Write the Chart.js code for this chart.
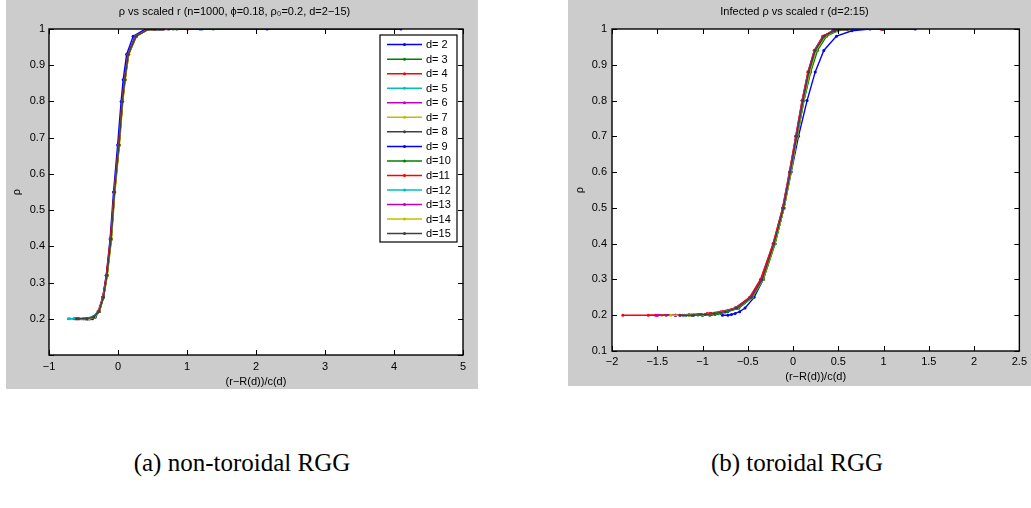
<!DOCTYPE html>
<html>
<head>
<meta charset="utf-8">
<title>rho vs scaled r</title>
<script src="https://cdn.jsdelivr.net/npm/chart.js@4.4.0/dist/chart.umd.min.js"></script>
<style>
  body { margin: 0; width: 1031px; height: 508px; background: #fff; position: relative; overflow: hidden; }
  .panel { position: absolute; top: 0; background: #cccccc; }
  #panelA { left: 6px; width: 472px; height: 389px; }
  #panelB { left: 568px; width: 463px; height: 386px; }
  .caption { position: absolute; top: 449px; width: 400px; text-align: center;
             font-family: 'Liberation Serif', 'DejaVu Serif', serif; font-size: 25px; color: #000; }
</style>
</head>
<body>
<div class="panel" id="panelA"><canvas id="chartA" width="472" height="389"></canvas></div>
<div class="panel" id="panelB"><canvas id="chartB" width="463" height="386"></canvas></div>
<div class="caption" style="left:42px">(a) non-toroidal RGG</div>
<div class="caption" style="left:597px">(b) toroidal RGG</div>

<script>
// series names, one per dimension d = 2..15
const dLabels = ['d= 2', 'd= 3', 'd= 4', 'd= 5', 'd= 6', 'd= 7', 'd= 8',
                 'd= 9', 'd=10', 'd=11', 'd=12', 'd=13', 'd=14', 'd=15'];

// matlab default line colour order (cycles every 7)
const lineColors = ['#0000ff', '#008000', '#ff0000', '#00bfbf', '#bf00bf', '#bfbf00', '#404040'];

// --- (a) non-toroidal: rho levels shared by all curves, x per curve ---
const rhoA = [0.2, 0.2, 0.205, 0.22, 0.26, 0.32, 0.42, 0.55, 0.68, 0.8, 0.86, 0.93, 0.98, 1, 1, 1, 1];

const xA_d2  = [-0.42, -0.37, -0.33, -0.27, -0.22, -0.17, -0.115, -0.065, -0.005, 0.045, 0.075, 0.125, 0.22, 0.4, 1.19, 2.16, 4.1];
const xA_d3  = [-0.58, -0.44, -0.35, -0.28, -0.215, -0.165, -0.105, -0.055, 0.01, 0.06, 0.095, 0.145, 0.25, 0.43, 0.8, 1.22, 1.38];
const xA_d4  = [-0.64, -0.47, -0.36, -0.29, -0.22, -0.165, -0.105, -0.055, 0.01, 0.06, 0.095, 0.15, 0.255, 0.44, 0.62, 0.85, 1.01];
const xA_d5  = [-0.72, -0.52, -0.37, -0.28, -0.21, -0.16, -0.1, -0.05, 0.015, 0.065, 0.1, 0.15, 0.26, 0.45, 0.6, 0.72, 0.86];
const xA_d6  = [-0.6, -0.45, -0.35, -0.28, -0.215, -0.16, -0.1, -0.05, 0.015, 0.065, 0.1, 0.155, 0.26, 0.44, 0.55, 0.66, 0.74];
const xA_d7  = [-0.55, -0.43, -0.34, -0.27, -0.21, -0.155, -0.095, -0.045, 0.02, 0.07, 0.105, 0.155, 0.265, 0.45, 0.54, 0.63, 0.7];
const xA_d8  = [-0.62, -0.46, -0.35, -0.275, -0.21, -0.16, -0.1, -0.05, 0.015, 0.065, 0.1, 0.15, 0.26, 0.44, 0.52, 0.6, 0.66];
const xA_d9  = [-0.5, -0.41, -0.34, -0.275, -0.215, -0.165, -0.105, -0.055, 0.01, 0.06, 0.095, 0.145, 0.25, 0.43, 0.52, 0.58, 0.64];
const xA_d10 = [-0.47, -0.4, -0.33, -0.27, -0.21, -0.16, -0.1, -0.05, 0.015, 0.065, 0.1, 0.15, 0.26, 0.44, 0.5, 0.56, 0.62];
const xA_d11 = [-0.56, -0.44, -0.35, -0.28, -0.22, -0.17, -0.11, -0.055, 0.01, 0.06, 0.095, 0.145, 0.255, 0.44, 0.5, 0.55, 0.6];
const xA_d12 = [-0.7, -0.5, -0.36, -0.28, -0.215, -0.16, -0.1, -0.05, 0.015, 0.065, 0.1, 0.15, 0.26, 0.45, 0.5, 0.54, 0.58];
const xA_d13 = [-0.58, -0.44, -0.35, -0.27, -0.21, -0.16, -0.1, -0.05, 0.015, 0.065, 0.1, 0.15, 0.26, 0.44, 0.49, 0.53, 0.57];
const xA_d14 = [-0.53, -0.42, -0.34, -0.27, -0.21, -0.155, -0.095, -0.045, 0.02, 0.07, 0.105, 0.155, 0.27, 0.45, 0.49, 0.52, 0.56];
const xA_d15 = [-0.6, -0.45, -0.35, -0.275, -0.21, -0.16, -0.1, -0.05, 0.015, 0.065, 0.1, 0.15, 0.265, 0.45, 0.48, 0.52, 0.55];

// --- (b) toroidal (infected rho) ---
const rhoB = [0.2, 0.2, 0.202, 0.205, 0.21, 0.22, 0.25, 0.3, 0.4, 0.5, 0.6, 0.7, 0.8, 0.88, 0.94, 0.98, 0.995, 1, 1];

const xB_d2  = [-0.78, -0.72, -0.68, -0.64, -0.59, -0.53, -0.43, -0.33, -0.2, -0.1, -0.02, 0.06, 0.155, 0.245, 0.34, 0.48, 0.65, 0.85, 1.35];
const xB_d3  = [-1.15, -1.0, -0.9, -0.83, -0.73, -0.6, -0.45, -0.33, -0.2, -0.1, -0.025, 0.045, 0.12, 0.19, 0.26, 0.36, 0.48, 0.62, 1.0];
const xB_d4  = [-1.88, -1.5, -1.15, -0.95, -0.8, -0.64, -0.48, -0.36, -0.22, -0.115, -0.04, 0.03, 0.1, 0.165, 0.235, 0.33, 0.44, 0.58, 0.98];
const xB_d5  = [-1.3, -1.1, -0.97, -0.87, -0.75, -0.62, -0.46, -0.34, -0.21, -0.11, -0.035, 0.035, 0.105, 0.17, 0.24, 0.34, 0.45, 0.6, 1.0];
const xB_d6  = [-1.52, -1.25, -1.02, -0.9, -0.77, -0.63, -0.47, -0.35, -0.215, -0.11, -0.035, 0.035, 0.105, 0.17, 0.24, 0.335, 0.45, 0.6, 0.98];
const xB_d7  = [-1.45, -1.2, -1.0, -0.88, -0.75, -0.61, -0.45, -0.33, -0.2, -0.1, -0.025, 0.045, 0.115, 0.185, 0.255, 0.355, 0.47, 0.62, 1.0];
const xB_d8  = [-1.4, -1.18, -1.0, -0.88, -0.76, -0.62, -0.46, -0.34, -0.21, -0.11, -0.035, 0.035, 0.105, 0.175, 0.245, 0.345, 0.46, 0.6, 1.0];
const xB_d9  = [-1.3, -1.12, -0.98, -0.87, -0.75, -0.62, -0.46, -0.34, -0.21, -0.105, -0.03, 0.04, 0.11, 0.175, 0.245, 0.345, 0.46, 0.6, 0.99];
const xB_d10 = [-1.0, -0.92, -0.86, -0.8, -0.72, -0.6, -0.45, -0.33, -0.2, -0.1, -0.025, 0.045, 0.12, 0.195, 0.27, 0.37, 0.49, 0.63, 1.0];
const xB_d11 = [-1.6, -1.3, -1.05, -0.92, -0.78, -0.64, -0.47, -0.355, -0.22, -0.115, -0.04, 0.03, 0.1, 0.165, 0.235, 0.33, 0.44, 0.58, 0.97];
const xB_d12 = [-1.2, -1.05, -0.95, -0.86, -0.75, -0.62, -0.46, -0.34, -0.21, -0.11, -0.035, 0.035, 0.105, 0.17, 0.24, 0.34, 0.45, 0.6, 1.0];
const xB_d13 = [-1.5, -1.22, -1.02, -0.89, -0.77, -0.63, -0.465, -0.345, -0.21, -0.11, -0.035, 0.035, 0.105, 0.17, 0.24, 0.34, 0.45, 0.6, 0.99];
const xB_d14 = [-1.35, -1.15, -0.99, -0.88, -0.76, -0.615, -0.455, -0.335, -0.205, -0.1, -0.025, 0.045, 0.115, 0.185, 0.255, 0.355, 0.47, 0.62, 1.0];
const xB_d15 = [-1.25, -1.1, -0.97, -0.87, -0.75, -0.62, -0.46, -0.34, -0.21, -0.105, -0.03, 0.04, 0.11, 0.175, 0.245, 0.345, 0.46, 0.6, 1.0];

const seriesA = [xA_d2, xA_d3, xA_d4, xA_d5, xA_d6, xA_d7, xA_d8, xA_d9, xA_d10, xA_d11, xA_d12, xA_d13, xA_d14, xA_d15];
const seriesB = [xB_d2, xB_d3, xB_d4, xB_d5, xB_d6, xB_d7, xB_d8, xB_d9, xB_d10, xB_d11, xB_d12, xB_d13, xB_d14, xB_d15];

Chart.defaults.font.family = "'Liberation Sans', 'DejaVu Sans', sans-serif";
Chart.defaults.font.size = 11;
Chart.defaults.color = '#000';

const fmt = v => String(Math.round(v * 10) / 10).replace('-', '\u2212');

function buildDatasets(series, rho) {
  return series.map((xs, i) => {
    const c = lineColors[i % lineColors.length];
    return {
      label: dLabels[i],
      data: xs.map((x, k) => ({ x, y: rho[k] })),
      showLine: true,
      borderColor: c,
      backgroundColor: c,
      borderWidth: 1.4,
      pointRadius: 1.5,
      pointBorderWidth: 0,
      pointBackgroundColor: c,
      order: series.length - i   // later d drawn on top
    };
  });
}

// white axes background, then the box and inward tick marks on all four sides
const frame = {
  id: 'frame',
  beforeDatasetsDraw(chart) {
    const { ctx, chartArea: a } = chart;
    ctx.save();
    ctx.fillStyle = '#fff';
    ctx.fillRect(a.left, a.top, a.right - a.left, a.bottom - a.top);
    ctx.restore();
  },
  afterDatasetsDraw(chart) {
    const { ctx, chartArea: a, scales: { x, y } } = chart;
    ctx.save();
    ctx.strokeStyle = '#000';
    ctx.lineWidth = 1;
    ctx.beginPath();
    x.ticks.forEach(t => {
      const px = Math.round(x.getPixelForValue(t.value)) + 0.5;
      ctx.moveTo(px, a.bottom); ctx.lineTo(px, a.bottom - 5);
      ctx.moveTo(px, a.top); ctx.lineTo(px, a.top + 5);
    });
    y.ticks.forEach(t => {
      const py = Math.round(y.getPixelForValue(t.value)) + 0.5;
      ctx.moveTo(a.left, py); ctx.lineTo(a.left + 5, py);
      ctx.moveTo(a.right, py); ctx.lineTo(a.right - 5, py);
    });
    ctx.stroke();
    ctx.lineWidth = 1.4;
    ctx.strokeRect(a.left, a.top, a.right - a.left, a.bottom - a.top);
    ctx.restore();
  }
};

// matlab-style legend box in the upper right of the plot area
const legendBox = {
  id: 'legendBox',
  afterDraw(chart) {
    const { ctx, chartArea: a } = chart;
    const w = 77, h = 207, rowH = 14.54;
    const left = a.right - 6 - w, top = a.top + 6;
    ctx.save();
    ctx.fillStyle = '#fff';
    ctx.fillRect(left, top, w, h);
    ctx.strokeStyle = '#000';
    ctx.lineWidth = 1.2;
    ctx.strokeRect(left, top, w, h);
    ctx.font = "11px 'Liberation Sans', 'DejaVu Sans', sans-serif";
    ctx.textBaseline = 'middle';
    chart.data.datasets.forEach((ds, i) => {
      const cy = top + 9.6 + i * rowH;
      ctx.strokeStyle = ds.borderColor;
      ctx.lineWidth = 1.5;
      ctx.beginPath();
      ctx.moveTo(left + 7, cy); ctx.lineTo(left + 42, cy);
      ctx.stroke();
      ctx.fillStyle = ds.borderColor;
      ctx.beginPath();
      ctx.arc(left + 24.5, cy, 1.5, 0, Math.PI * 2);
      ctx.fill();
      ctx.fillStyle = '#000';
      ctx.fillText(ds.label, left + 46, cy + 0.5);
    });
    ctx.restore();
  }
};

function makeChart(id, cfg) {
  return new Chart(document.getElementById(id), {
    type: 'scatter',
    data: { datasets: buildDatasets(cfg.series, cfg.rho) },
    plugins: cfg.plugins,
    options: {
      responsive: false,
      animation: false,
      layout: { padding: { left: 0, right: cfg.padRight, top: 0, bottom: 0 } },
      plugins: {
        legend: { display: false },
        tooltip: { enabled: false },
        title: {
          display: true,
          text: cfg.title,
          font: { size: 11, weight: 'normal', lineHeight: 1.2 },
          padding: { top: 5, bottom: 10.8 }
        }
      },
      scales: {
        x: {
          type: 'linear',
          min: cfg.xMin, max: cfg.xMax,
          grid: { display: false, drawTicks: false },
          border: { display: false },
          ticks: { stepSize: cfg.xStep, padding: cfg.xTickPad, maxRotation: 0, autoSkip: false, callback: fmt },
          title: { display: true, text: '(r\u2212R(d))/c(d)', font: { size: 11 }, padding: { top: 0, bottom: cfg.xTitlePad } },
          afterFit: s => { s.height = cfg.xHeight; }
        },
        y: {
          type: 'linear',
          min: 0.1, max: 1,
          grid: { display: false, drawTicks: false },
          border: { display: false },
          ticks: { stepSize: 0.1, padding: cfg.yTickPad, autoSkip: false,
                   callback: v => (cfg.hideBottom && v < 0.15) ? '' : fmt(v) },
          title: { display: true, text: '\u03c1', font: { size: 11 }, padding: { top: cfg.yTitlePad, bottom: 0 } },
          afterFit: s => { s.width = cfg.yWidth; }
        }
      }
    }
  });
}

makeChart('chartA', {
  series: seriesA, rho: rhoA,
  title: '\u03c1 vs scaled r (n=1000, \u03d5=0.18, \u03c1\u2080=0.2, d=2\u221215)',
  xMin: -1, xMax: 5, xStep: 1,
  yWidth: 43, xHeight: 34, padRight: 15,
  xTickPad: 5, xTitlePad: 0, yTickPad: 4, yTitlePad: 4,
  hideBottom: true,
  plugins: [frame, legendBox]
});

makeChart('chartB', {
  series: seriesB, rho: rhoB,
  title: 'Infected \u03c1 vs scaled r (d=2:15)',
  xMin: -2, xMax: 2.5, xStep: 0.5,
  yWidth: 44, xHeight: 35, padRight: 10,
  xTickPad: 4, xTitlePad: 2.5, yTickPad: 5, yTitlePad: 5,
  hideBottom: false,
  plugins: [frame]
});
</script>
</body>
</html>
